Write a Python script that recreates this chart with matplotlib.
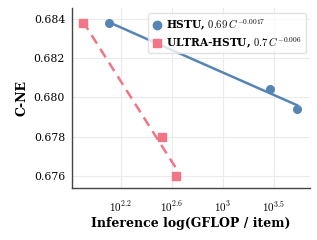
import numpy as np
import matplotlib
matplotlib.use("Agg")
import matplotlib.pyplot as plt

plt.rcParams["font.family"] = "DejaVu Serif"
plt.rcParams["mathtext.fontset"] = "cm"

# log10(GFLOP / item) and C-NE
hstu_logc = [2.106, 3.365, 3.580]
hstu_cne = [0.6838, 0.68044, 0.67942]
ultra_logc = [1.902, 2.522, 2.631]
ultra_cne = [0.6838, 0.6780, 0.6760]

hstu_label = r"$0.69\,C^{-0.0017}$"
ultra_label = r"$0.7\,C^{-0.006}$"

xtick_pos = [2.2, 2.6, 3.0, 3.4]
xtick_lab = [r"$10^{2.2}$", r"$10^{2.6}$", r"$10^{3}$", r"$10^{3.5}$"]
yticks = [0.676, 0.678, 0.680, 0.682, 0.684]

blue = "#5585b5"
pink = "#f07585"


def fit_line(lc, y):
    # power law y = a * C^b -> straight line in log-log
    C = 10 ** np.asarray(lc)
    b, la = np.polyfit(np.log(C), np.log(y), 1)
    xs = np.linspace(min(lc), max(lc), 50)
    return 10 ** xs, np.exp(la) * (10 ** xs) ** b


fig = plt.figure(figsize=(3.17, 2.40), dpi=100)
ax = fig.add_axes([0.227, 0.217, 0.75, 0.75])

x, y = fit_line(hstu_logc, hstu_cne)
ax.plot(x, y, "-", color=blue, lw=1.8, zorder=2)
x, y = fit_line(ultra_logc, ultra_cne)
ax.plot(x, y, "--", color=pink, lw=1.8, dashes=(4, 2.5), zorder=2)
ax.scatter(10 ** np.array(hstu_logc), hstu_cne, marker="o", s=30, color=blue,
           zorder=3, label="HSTU, " + hstu_label)
ax.scatter(10 ** np.array(ultra_logc), ultra_cne, marker="s", s=30, color=pink,
           zorder=3, label="ULTRA-HSTU, " + ultra_label)

ax.set_xscale("log")
ax.set_xlim(10 ** 1.816, 10 ** 3.68)
ax.set_ylim(0.67539, 0.68456)
ax.set_xticks([10 ** p for p in xtick_pos])
ax.set_xticklabels(xtick_lab)
ax.xaxis.set_minor_locator(matplotlib.ticker.NullLocator())
ax.set_yticks(yticks)
ax.set_yticklabels([f"{v:.3f}" for v in yticks])
ax.tick_params(axis="y", labelsize=7.8, length=0, pad=5)
ax.tick_params(axis="x", labelsize=8, length=0, pad=8)
ax.grid(True, color="#ebebeb", lw=0.8)
ax.set_axisbelow(True)
for s in ["top", "right"]:
    ax.spines[s].set_visible(False)
for s in ["left", "bottom"]:
    ax.spines[s].set_color("#444444")
    ax.spines[s].set_linewidth(1.0)

ax.set_xlabel("Inference log(GFLOP / item)", fontsize=9, fontweight="bold", labelpad=2)
ax.set_ylabel("C-NE", fontsize=9, fontweight="bold", labelpad=4)
leg = ax.legend(loc="upper right", prop={"size": 7.6, "weight": "bold"},
                frameon=True, edgecolor="#dddddd",
                handletextpad=0.4, borderpad=0.35, labelspacing=0.3,
                bbox_to_anchor=(1.005, 1.0), handlelength=1.0, markerscale=1.1)

fig.savefig("out.png", dpi=100)
